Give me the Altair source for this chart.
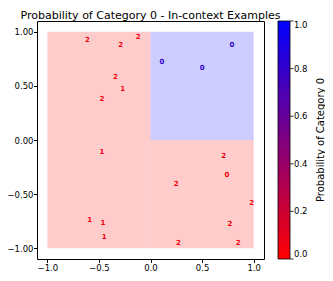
import altair as alt
import pandas as pd

# In-context example points
xs = [-0.61, -0.29, -0.12, 0.79, 0.11, 0.50, -0.34, -0.27, -0.47,
      -0.47, 0.71, 0.74, 0.25, 0.98, -0.59, -0.46, 0.77, -0.45, 0.27, 0.85]
ys = [0.92, 0.88, 0.95, 0.88, 0.72, 0.67, 0.58, 0.47, 0.38,
      -0.11, -0.15, -0.32, -0.41, -0.58, -0.74, -0.77, -0.78, -0.90, -0.95, -0.95]
labels = ["2", "2", "2", "0", "0", "0", "2", "1", "2",
          "1", "2", "0", "2", "2", "1", "1", "2", "1", "2", "2"]
point_prob = [0.05, 0.05, 0.05, 0.8, 0.8, 0.8, 0.05, 0.05, 0.05,
              0.05, 0.05, 0.05, 0.05, 0.05, 0.05, 0.05, 0.05, 0.05, 0.05, 0.05]

# Probability regions
reg_x = [-1.0, 0.0, 0.0]
reg_x2 = [0.0, 1.0, 1.0]
reg_y = [-1.0, -1.0, 0.0]
reg_y2 = [1.0, 0.0, 1.0]
reg_prob = [0.0, 0.0, 1.0]

# Texts
chart_title = ["Probability of Category 0 - In-context Examples"]
cbar_title = ["Probability of Category 0"]
cbar_ticks = [0.0, 0.2, 0.4, 0.6, 0.8, 1.0]

pts = pd.DataFrame({"x": xs, "y": ys, "label": labels, "prob": point_prob})
regions = pd.DataFrame({"x": reg_x, "x2": reg_x2, "y": reg_y, "y2": reg_y2, "prob": reg_prob})
ttl = pd.DataFrame({"t": chart_title})
ctitle = pd.DataFrame({"t": cbar_title})
cticks = pd.DataFrame({"v": cbar_ticks})

FONT = "DejaVu Sans"
W = 227
H = 238
xscale = alt.Scale(domain=[-1.1, 1.1], nice=False, zero=False)
yscale = alt.Scale(domain=[-1.1, 1.1], nice=False, zero=False)
cscale = alt.Scale(domain=[0, 1], range=["#ff0000", "#0000ff"], interpolate="rgb")

xaxis = alt.Axis(values=[-1.0, -0.5, 0.0, 0.5, 1.0], format=".1f", grid=False, domain=False,
                 tickColor="black", tickSize=3.5, labelFontSize=8.5, labelColor="black",
                 labelFont=FONT, title=None, labelPadding=1)
yaxis = alt.Axis(values=[-1.0, -0.75, -0.5, -0.25, 0.0, 0.25, 0.5, 0.75, 1.0], format=".2f",
                 grid=False, domain=False, tickColor="black", tickSize=3.5, labelFontSize=8.5,
                 labelColor="black", labelFont=FONT, title=None, labelPadding=0.5)

legend = alt.Legend(
    title=None, orient="none", legendX=241, legendY=0,
    direction="vertical", gradientLength=H, gradientThickness=12,
    gradientStrokeColor="black", gradientStrokeWidth=0.8, gradientOpacity=1,
    values=cbar_ticks, format=".1f",
    labelFontSize=8.5, labelFont=FONT, labelColor="black", labelOffset=4,
)

bg = alt.Chart(regions).mark_rect(opacity=0.2).encode(
    x=alt.X("x:Q", scale=xscale, axis=xaxis),
    x2="x2:Q",
    y=alt.Y("y:Q", scale=yscale, axis=yaxis),
    y2="y2:Q",
    color=alt.Color("prob:Q", scale=cscale, legend=legend),
)

txt = alt.Chart(pts).mark_text(font=FONT, fontSize=7, fontWeight="bold").encode(
    x=alt.X("x:Q", scale=xscale),
    y=alt.Y("y:Q", scale=yscale),
    text="label:N",
    color=alt.Color("prob:Q", scale=cscale),
)

cbt = alt.Chart(ctitle).mark_text(font=FONT, fontSize=10, angle=270, color="black",
                                  align="center", baseline="middle").encode(
    x=alt.value(284), y=alt.value(H / 2), text="t:N"
)

title_mark = alt.Chart(ttl).mark_text(font=FONT, fontSize=11, color="black",
                                      align="center", baseline="alphabetic").encode(
    x=alt.value(W / 2), y=alt.value(-2.5), text="t:N"
)

tick_marks = alt.Chart(cticks).mark_rule(color="black", strokeWidth=0.8).encode(
    x=alt.value(253), x2=alt.value(256.5),
    y=alt.Y("v:Q", scale=alt.Scale(domain=[0, 1], nice=False, zero=False), axis=None),
)

main = alt.layer(bg, txt, cbt, title_mark)
chart = alt.layer(main, tick_marks).resolve_scale(y="independent").properties(
    width=W, height=H,
    autosize=alt.AutoSizeParams(type="none"),
    padding={"left": 29, "top": 13, "right": 61, "bottom": 14},
).configure_view(stroke="black", strokeWidth=1)

chart.save("out.html", embed_options={"renderer": "svg", "actions": False})
